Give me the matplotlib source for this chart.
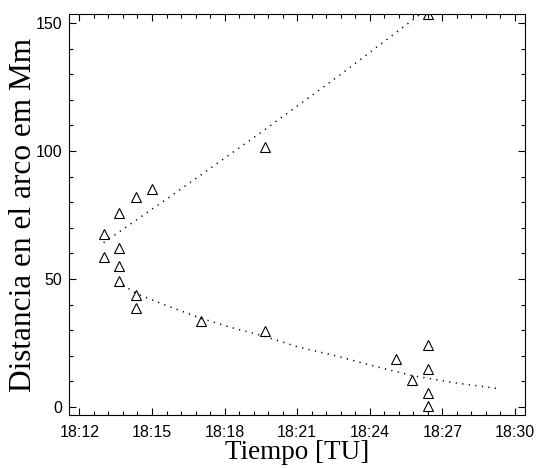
import numpy as np
import matplotlib
matplotlib.use("Agg")
import matplotlib.pyplot as plt
from matplotlib.ticker import FixedLocator, MultipleLocator

# Observed points (time in minutes after 18:00, distance in Mm)
t_obs = [13.0, 13.0, 13.65, 13.65, 13.65, 13.65, 14.34, 14.34, 14.34, 14.99,
         17.04, 19.67, 19.67, 25.1, 25.75, 26.42, 26.42, 26.42, 26.42, 26.42]
d_obs = [67.6, 58.6, 75.8, 62.1, 55.0, 49.2, 82.0, 43.7, 38.7, 85.2,
         33.6, 101.6, 29.7, 18.7, 10.4, 24.3, 14.7, 5.4, 0.4, 153.5]

# Fitted curves
t_up = [13.0, 15.75, 19.47, 22.77, 26.1]
d_up = [64.2, 82.2, 107.0, 129.7, 153.5]
t_low = [13.8, 14.34, 15.5, 17.04, 18.3, 19.48, 21.0, 22.77, 24.3, 25.8, 27.5, 29.25]
d_low = [47.7, 44.4, 40.0, 34.6, 31.0, 28.1, 23.6, 19.6, 15.7, 12.2, 9.5, 7.3]

xticks = [12, 15, 18, 21, 24, 27, 30]
xticklabels = ["18:%02d" % m for m in xticks]
yticks = [0, 50, 100, 150]

fig = plt.figure(figsize=(5.37, 4.68), dpi=100)
ax = fig.add_axes([0.1285, 0.1132, 0.8497, 0.8569])

ax.plot(t_up, d_up, color="black", lw=1.1, linestyle=(0, (0.8, 3.5)))
ax.plot(t_low, d_low, color="black", lw=1.1, linestyle=(0, (0.8, 3.5)))
ax.plot(t_obs, d_obs, linestyle="none", marker="^", markersize=6.5,
        markerfacecolor="none", markeredgecolor="black", markeredgewidth=0.8)

ax.set_xlim(11.57, 30.43)
ax.set_ylim(-3.1, 153.5)

ax.xaxis.set_major_locator(FixedLocator(xticks))
ax.set_xticklabels(xticklabels)
ax.xaxis.set_minor_locator(MultipleLocator(0.6))
ax.yaxis.set_major_locator(FixedLocator(yticks))
ax.yaxis.set_minor_locator(MultipleLocator(10))

ax.tick_params(which="both", direction="in", top=True, right=True, width=0.8)
ax.tick_params(which="major", length=5)
ax.tick_params(which="minor", length=3)
ax.tick_params(axis="x", pad=7)
ax.tick_params(axis="y", pad=5)
for lab in ax.get_xticklabels() + ax.get_yticklabels():
    lab.set_fontfamily("Liberation Sans")
    lab.set_fontsize(11.5)

for s in ax.spines.values():
    s.set_linewidth(0.8)

ax.set_xlabel("Tiempo [TU]", fontfamily="Liberation Serif", fontsize=19.5)
ax.set_ylabel("Distancia en el arco em Mm", fontfamily="Liberation Serif", fontsize=22.5)
ax.xaxis.set_label_coords(0.5, -0.062)
ax.yaxis.set_label_coords(-0.068, 0.5)

fig.savefig("out.png", dpi=100)
